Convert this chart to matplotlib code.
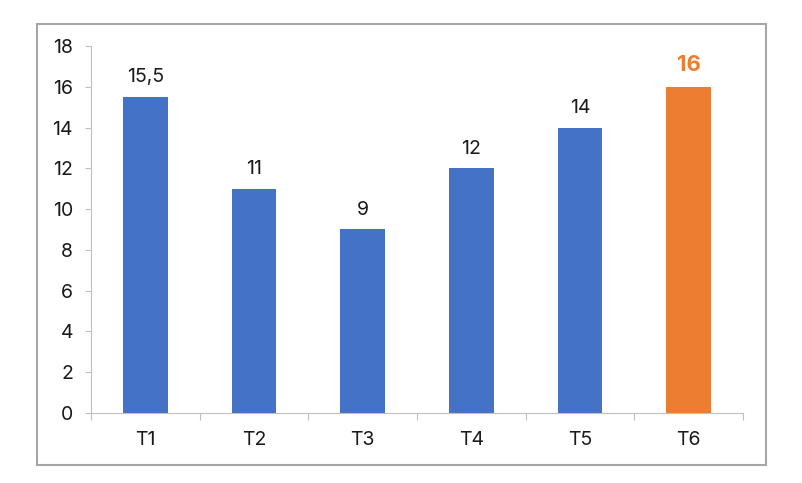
import matplotlib
matplotlib.use("Agg")
import matplotlib.pyplot as plt
from matplotlib.patches import Rectangle

categories = ["T1", "T2", "T3", "T4", "T5", "T6"]
values = [15.5, 11, 9, 12, 14, 16]
labels = ["15,5", "11", "9", "12", "14", "16"]
yticks = [0, 2, 4, 6, 8, 10, 12, 14, 16, 18]

blue = "#4472C4"
orange = "#ED7D31"
colors = [blue] * 5 + [orange]

plt.rcParams['font.family'] = ['Inter', 'DejaVu Sans']

fig = plt.figure(figsize=(8.02, 4.83), dpi=100)
fig.patch.set_facecolor("white")
fig.add_artist(Rectangle((0.046, 0.037), 0.909, 0.913, transform=fig.transFigure,
                         fill=False, edgecolor="#a6a6a6", linewidth=1.5))
ax = fig.add_axes([0.1135, 0.1449, 0.8129, 0.7599])
x = list(range(len(categories)))
ax.bar(x, values, width=0.41, color=colors, zorder=2)
ax.set_xlim(-0.5, len(categories) - 0.5)
ax.set_ylim(0, 18)
ax.set_yticks(yticks)
ax.set_yticklabels([str(v) for v in yticks])
ax.set_xticks(x)
ax.set_xticklabels(categories)
ax.tick_params(axis='x', length=0, pad=13, labelsize=14, colors="#1a1a1a")
ax.tick_params(axis='y', length=4, width=0.8, color="#bfbfbf", pad=9, labelsize=14, labelcolor="#1a1a1a")
# category separators
ax.set_xticks([i + 0.5 for i in range(-1, len(categories))], minor=True)
ax.tick_params(axis='x', which='minor', length=5, width=0.8, color="#bfbfbf")
for s in ["top", "right"]:
    ax.spines[s].set_visible(False)
for s in ["left", "bottom"]:
    ax.spines[s].set_color("#bfbfbf")
    ax.spines[s].set_linewidth(0.8)

for i, (v, lab) in enumerate(zip(values, labels)):
    if i == len(values) - 1:
        ax.annotate(lab, (i, v), xytext=(0, 11.5), textcoords="offset points", ha="center",
                    va="baseline", fontsize=16, fontweight="bold", color=orange)
    else:
        ax.annotate(lab, (i, v), xytext=(0, 10.5), textcoords="offset points", ha="center",
                    va="baseline", fontsize=14, color="#1a1a1a")

fig.savefig("out.png", dpi=100, facecolor="white")
